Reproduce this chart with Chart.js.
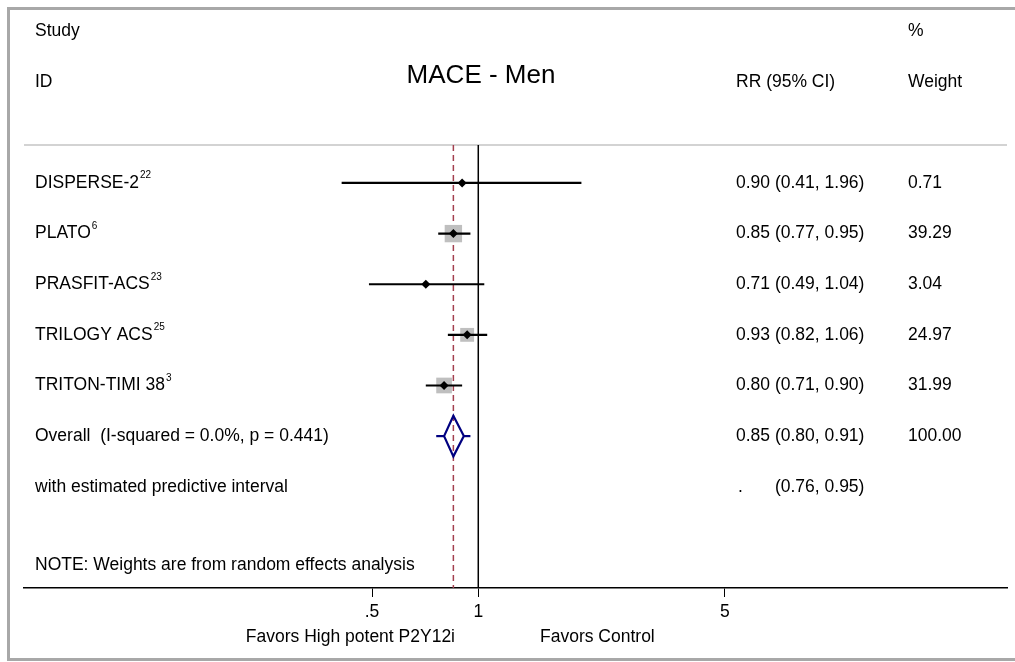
<!DOCTYPE html>
<html>
<head>
<meta charset="utf-8">
<script src="https://cdn.jsdelivr.net/npm/chart.js@4/dist/chart.umd.min.js"></script>
<style>
  body { margin: 0; background: #fff; }
  canvas { display: block; }
</style>
</head>
<body>
<canvas id="forest" width="1015" height="662"></canvas>
<script>
const studies = ['DISPERSE-2', 'PLATO', 'PRASFIT-ACS', 'TRILOGY ACS', 'TRITON-TIMI 38'];
const refs = ['22', '6', '23', '25', '3'];
const rr = [0.90, 0.85, 0.71, 0.93, 0.80];
const ciLow = [0.41, 0.77, 0.49, 0.82, 0.71];
const ciHigh = [1.96, 0.95, 1.04, 1.06, 0.90];
const weights = [0.71, 39.29, 3.04, 24.97, 31.99];

const overallLabel = 'Overall  (I-squared = 0.0%, p = 0.441)';
const overallRR = 0.85;
const overallLow = 0.80;
const overallHigh = 0.91;
const overallWeight = 100.00;
const predLabel = 'with estimated predictive interval';
const predLow = 0.76;
const predHigh = 0.95;

const xTicks = [0.5, 1, 5];
const xTickLabels = ['.5', '1', '5'];

const FONT = '"Liberation Sans", Arial, Helvetica, sans-serif';
const xMin = 0.0516, xMax = 31.5;
const yTop = -0.75, yBottom = 8;
const overallRow = studies.length;
const predRow = studies.length + 1;

function seg(x1, y1, x2, y2, color, width, dash) {
    return {
        type: 'scatter', showLine: true, clip: false,
        data: [{x: x1, y: y1}, {x: x2, y: y2}],
        borderColor: color, borderWidth: width, borderDash: dash || [],
        pointRadius: 0, pointHoverRadius: 0
    };
}

const datasets = [];

// point estimate markers (top)
datasets.push({
    type: 'scatter',
    data: rr.map((v, i) => ({x: v, y: i})),
    pointStyle: 'rectRot', pointRadius: 4.5, pointHoverRadius: 4.5,
    backgroundColor: '#000', borderColor: '#000', borderWidth: 0
});

// confidence intervals
rr.forEach((v, i) => datasets.push(seg(ciLow[i], i, ciHigh[i], i, '#000', 2.2)));

// overall diamond + predictive interval
datasets.push({
    type: 'scatter', showLine: true,
    data: [
        {x: overallLow, y: overallRow}, {x: overallRR, y: overallRow - 0.4},
        {x: overallHigh, y: overallRow}, {x: overallRR, y: overallRow + 0.4},
        {x: overallLow, y: overallRow}
    ],
    borderColor: '#000080', borderWidth: 2.2, pointRadius: 0, pointHoverRadius: 0
});
datasets.push(seg(predLow, overallRow, overallLow, overallRow, '#000080', 2.2));
datasets.push(seg(overallHigh, overallRow, predHigh, overallRow, '#000080', 2.2));

// weight boxes
datasets.push({
    type: 'scatter',
    data: rr.map((v, i) => ({x: v, y: i})),
    pointStyle: 'rect',
    pointRadius: ctx => 1.96 * Math.sqrt(weights[ctx.dataIndex] || 0),
    pointHoverRadius: ctx => 1.96 * Math.sqrt(weights[ctx.dataIndex] || 0),
    backgroundColor: '#bfbfbf', borderWidth: 0
});

// reference lines
datasets.push(seg(overallRR, yTop, overallRR, yBottom, '#a3404f', 1.5, [6, 4]));
datasets.push(seg(1, yTop, 1, yBottom, '#000', 1.5));
datasets.push(seg(xMin, yTop, xMax, yTop, '#c4c4c4', 1.5));

const textPlugin = {
    id: 'forestText',
    beforeDraw(chart) {
        const ctx = chart.ctx;
        ctx.save();
        ctx.strokeStyle = '#a8a8a8';
        ctx.lineWidth = 3;
        ctx.beginPath();
        ctx.moveTo(1020, 8.5);
        ctx.lineTo(8.5, 8.5);
        ctx.lineTo(8.5, 659.5);
        ctx.lineTo(1020, 659.5);
        ctx.stroke();
        ctx.restore();
    },
    afterDraw(chart) {
        const ctx = chart.ctx;
        const y = chart.scales.y;
        const colStudy = 35, colRR = 736, colW = 908;
        ctx.save();
        ctx.fillStyle = '#000';
        ctx.textBaseline = 'middle';
        ctx.font = '17.5px ' + FONT;

        ctx.fillText('Study', colStudy, y.getPixelForValue(-3));
        ctx.fillText('ID', colStudy, y.getPixelForValue(-2));
        ctx.fillText('RR (95% CI)', colRR, y.getPixelForValue(-2));
        ctx.fillText('%', colW, y.getPixelForValue(-3));
        ctx.fillText('Weight', colW, y.getPixelForValue(-2));

        const rrEnd = colRR + ctx.measureText('0.90 (0.41, 1.96)').width;

        studies.forEach((name, i) => {
            const py = y.getPixelForValue(i);
            ctx.font = '17.5px ' + FONT;
            ctx.fillText(name, colStudy, py);
            const w = ctx.measureText(name).width;
            ctx.fillText(`${rr[i].toFixed(2)} (${ciLow[i].toFixed(2)}, ${ciHigh[i].toFixed(2)})`, colRR, py);
            ctx.fillText(weights[i].toFixed(2), colW, py);
            ctx.font = '10px ' + FONT;
            ctx.textBaseline = 'alphabetic';
            ctx.fillText(refs[i], colStudy + w + 1, py - 4.5);
            ctx.textBaseline = 'middle';
        });

        ctx.font = '17.5px ' + FONT;
        let py = y.getPixelForValue(overallRow);
        ctx.fillText(overallLabel, colStudy, py);
        ctx.fillText(`${overallRR.toFixed(2)} (${overallLow.toFixed(2)}, ${overallHigh.toFixed(2)})`, colRR, py);
        ctx.fillText(overallWeight.toFixed(2), colW, py);

        py = y.getPixelForValue(predRow);
        ctx.fillText(predLabel, colStudy, py);
        ctx.fillText('.', colRR + 2, py);
        ctx.textAlign = 'right';
        ctx.fillText(`(${predLow.toFixed(2)}, ${predHigh.toFixed(2)})`, rrEnd, py);
        ctx.textAlign = 'left';

        ctx.fillText('NOTE: Weights are from random effects analysis', colStudy, y.getPixelForValue(7.55));

        ctx.textAlign = 'right';
        ctx.fillText('Favors High potent P2Y12i', 455, 637);
        ctx.textAlign = 'left';
        ctx.fillText('Favors Control', 540, 637);

        ctx.font = '26px ' + FONT;
        ctx.textAlign = 'center';
        ctx.fillText('MACE - Men', 481, 76);
        ctx.restore();
    }
};

new Chart(document.getElementById('forest').getContext('2d'), {
    type: 'scatter',
    data: { datasets: datasets },
    options: {
        responsive: false,
        animation: false,
        devicePixelRatio: 1,
        layout: { autoPadding: false, padding: { left: 24, right: 8, top: 145, bottom: 0 } },
        scales: {
            x: {
                type: 'logarithmic',
                min: xMin,
                max: xMax,
                afterBuildTicks: s => { s.ticks = xTicks.map(v => ({ value: v })); },
                afterFit: s => { s.height = 74; },
                grid: { display: true, drawOnChartArea: false, drawTicks: true, tickLength: 9, color: '#000', lineWidth: 1 },
                border: { display: true, color: '#000', width: 1.5 },
                ticks: {
                    color: '#000',
                    font: { size: 17.5, family: FONT },
                    padding: 5,
                    maxRotation: 0,
                    autoSkip: false,
                    callback: (v, i) => xTickLabels[i]
                }
            },
            y: {
                type: 'linear',
                min: yTop,
                max: yBottom,
                reverse: true,
                display: false
            }
        },
        plugins: {
            legend: { display: false },
            tooltip: { enabled: false }
        }
    },
    plugins: [textPlugin]
});
</script>
</body>
</html>
